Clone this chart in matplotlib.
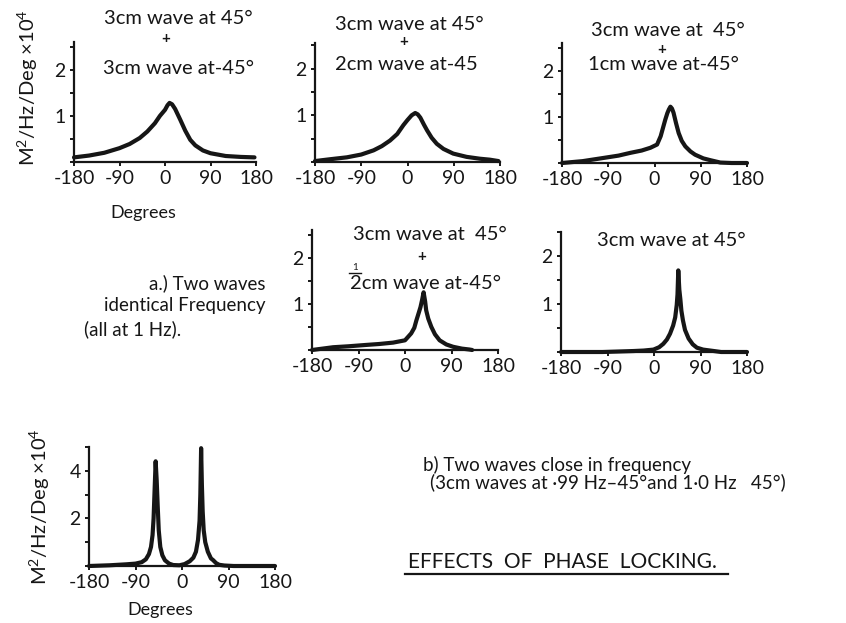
import matplotlib.pyplot as plt
from matplotlib.lines import Line2D
from matplotlib.ticker import MultipleLocator

W, H = 846, 623
INK = '#161616'

# a) two waves of identical frequency, spectra against direction (degrees)
deg_a1 = [-180, -150, -120, -90, -70, -50, -35, -20, -10, 0, 5, 9, 14, 20, 30, 40, 50, 60, 75, 90, 120, 150, 177]
psd_a1 = [0.10, 0.14, 0.20, 0.30, 0.39, 0.52, 0.66, 0.84, 1.00, 1.13, 1.23, 1.28, 1.25, 1.15, 0.92, 0.68, 0.48, 0.36, 0.25, 0.19, 0.13, 0.11, 0.10]

deg_a2 = [-180, -150, -118, -90, -66, -50, -34, -20, -8, 0, 8, 15, 20, 25, 32, 38, 47, 57, 70, 89, 115, 141, 160, 177]
psd_a2 = [0.02, 0.06, 0.10, 0.16, 0.25, 0.34, 0.46, 0.60, 0.79, 0.90, 1.00, 1.05, 1.02, 0.95, 0.80, 0.68, 0.52, 0.39, 0.28, 0.18, 0.11, 0.07, 0.05, 0.02]

deg_a3 = [-180, -140, -99, -70, -47, -25, -8, 5, 12, 17, 21, 25, 28, 31, 34, 37, 42, 47, 53, 60, 70, 79, 95, 109, 128, 150, 180]
psd_a3 = [0.0, 0.04, 0.11, 0.16, 0.22, 0.27, 0.33, 0.40, 0.58, 0.78, 0.94, 1.08, 1.16, 1.22, 1.18, 1.09, 0.86, 0.65, 0.48, 0.36, 0.25, 0.18, 0.10, 0.06, 0.01, 0.0, 0.0]

deg_a4 = [-180, -139, -110, -75, -50, -23, 0, 12, 18, 22, 27, 30, 33, 36, 39, 41, 45, 51, 58, 67, 80, 93, 110, 125, 130]
psd_a4 = [0.0, 0.06, 0.08, 0.11, 0.13, 0.16, 0.21, 0.36, 0.48, 0.64, 0.82, 0.93, 1.08, 1.25, 1.05, 0.86, 0.68, 0.50, 0.34, 0.21, 0.12, 0.07, 0.03, 0.01, 0.0]

deg_a5 = [-180, -100, -40, -20, -1, 10, 18, 25, 31, 37, 41, 44, 45.5, 47, 49, 51, 53, 56, 60, 67, 75, 83, 95, 109, 130, 180]
psd_a5 = [0.0, 0.0, 0.02, 0.03, 0.05, 0.10, 0.17, 0.26, 0.38, 0.55, 0.72, 0.98, 1.20, 1.70, 1.30, 1.10, 0.86, 0.66, 0.46, 0.28, 0.16, 0.09, 0.05, 0.03, 0.0, 0.0]

# b) two waves close in frequency
deg_b = [-180, -140, -108, -90, -78, -70, -64, -60, -57, -55, -53, -51, -49, -47, -45, -42, -38, -33, -25, -17,
         -5, 5, 15, 22, 27, 31, 34, 35.5, 37, 38.5, 40, 42, 45, 50, 56, 60, 66, 72, 82, 100, 180]
psd_b = [0.0, 0.03, 0.07, 0.10, 0.16, 0.28, 0.50, 0.80, 1.30, 2.0, 3.2, 4.4, 3.6, 2.5, 1.5, 0.80, 0.45, 0.24, 0.10, 0.04,
         0.03, 0.08, 0.20, 0.35, 0.60, 1.10, 1.90, 3.0, 4.95, 3.4, 2.3, 1.5, 1.0, 0.6, 0.32, 0.25, 0.12, 0.05, 0.02, 0.0, 0.0]

x_ticks = [-180, -90, 0, 90, 180]
x_labels = ['-180', '-90', '0', '90', '180']

plt.rcParams['font.family'] = ['Lato', 'DejaVu Sans']
plt.rcParams['text.color'] = INK


def px(x, y):
    return x / W, 1 - y / H


def make_axes(fig, left, right, bottom, top):
    return fig.add_axes([left / W, 1 - bottom / H, (right - left) / W, (bottom - top) / H])


def style(ax, ymax, major, minor):
    ax.set_xlim(-180, 180)
    ax.set_ylim(0, ymax)
    for s in ['top', 'right']:
        ax.spines[s].set_visible(False)
    for s in ['left', 'bottom']:
        ax.spines[s].set_linewidth(1.6)
        ax.spines[s].set_color(INK)
    ax.set_xticks(x_ticks)
    ax.set_xticklabels(x_labels)
    ax.yaxis.set_major_locator(MultipleLocator(major))
    ax.yaxis.set_minor_locator(MultipleLocator(minor))
    ticks = [t for t in ax.get_yticks() if 0 < t < ymax]
    ax.set_yticks(ticks)
    ax.set_yticklabels(['%g' % t for t in ticks])
    ax.tick_params(axis='both', which='both', direction='out', length=3, width=1.4,
                   color=INK, labelsize=14, labelcolor=INK)
    ax.tick_params(axis='x', pad=3)
    ax.tick_params(axis='y', pad=3)
    ax.set_facecolor('none')


fig = plt.figure(figsize=(W / 100, H / 100), dpi=100)

panels = [
    (74, 256, 162, 42, 2.6, 1, 0.5, deg_a1, psd_a1),
    (315, 500, 162, 43, 2.55, 1, 0.5, deg_a2, psd_a2),
    (562, 747, 163, 43, 2.6, 1, 0.5, deg_a3, psd_a3),
    (312, 498, 350, 230, 2.6, 1, 0.5, deg_a4, psd_a4),
    (561, 747, 352, 232, 2.5, 1, 0.5, deg_a5, psd_a5),
    (89, 275, 566, 447, 5.0, 2, 1, deg_b, psd_b),
]

for l, r, b, t, ymax, major, minor, xs, ys in panels:
    ax = make_axes(fig, l, r, b, t)
    style(ax, ymax, major, minor)
    ax.plot(xs, ys, color=INK, lw=3.0, solid_joinstyle='round', solid_capstyle='round', clip_on=False)

fs = 14.5
plus = dict(ha='center', va='center', fontsize=11, fontweight='bold')

# panel titles
fig.text(*px(178, 18), '3cm wave at 45°', ha='center', va='center', fontsize=fs)
fig.text(*px(166, 39), '+', **plus)
fig.text(*px(178, 68), '3cm wave at-45°', ha='center', va='center', fontsize=fs)

fig.text(*px(409, 25), '3cm wave at 45°', ha='center', va='center', fontsize=fs)
fig.text(*px(404, 42), '+', **plus)
fig.text(*px(335, 65), '2cm wave at-45', ha='left', va='center', fontsize=fs)

fig.text(*px(668, 30), '3cm wave at  45°', ha='center', va='center', fontsize=fs)
fig.text(*px(662, 50), '+', **plus)
fig.text(*px(663, 65), '1cm wave at-45°', ha='center', va='center', fontsize=fs)

fig.text(*px(430, 235), '3cm wave at  45°', ha='center', va='center', fontsize=fs)
fig.text(*px(422, 257), '+', **plus)
fig.text(*px(350, 284), '2cm wave at-45°', ha='left', va='center', fontsize=fs)
fig.text(*px(355, 267), '1', ha='center', va='center', fontsize=7)
fig.add_artist(Line2D([349 / W, 361 / W], [1 - 273 / H, 1 - 273 / H], color=INK, lw=1))

fig.text(*px(671, 240), '3cm wave at 45°', ha='center', va='center', fontsize=fs)

# axis titles
ylab = 'M$\\mathregular{^2}$/Hz/Deg ×10$\\mathregular{^4}$'
fig.text(*px(28, 88), ylab, rotation=90, ha='center', va='center', fontsize=fs)
fig.text(*px(40, 507), ylab, rotation=90, ha='center', va='center', fontsize=fs)
fig.text(*px(143, 213), 'Degrees', ha='center', va='center', fontsize=13)
fig.text(*px(160, 610), 'Degrees', ha='center', va='center', fontsize=13)

# captions
fig.text(*px(265, 283), 'a.) Two waves', ha='right', va='center', fontsize=13.5)
fig.text(*px(265, 306), 'identical Frequency', ha='right', va='center', fontsize=13.5)
fig.text(*px(84, 329), '(all at 1 Hz).', ha='left', va='center', fontsize=13.5)

fig.text(*px(423, 465), 'b) Two waves close in frequency', ha='left', va='center', fontsize=13.5)
fig.text(*px(430, 482), '(3cm waves at ·99 Hz–45°and 1·0 Hz   45°)', ha='left', va='center', fontsize=13.5)

fig.text(*px(408, 562), 'EFFECTS  OF  PHASE  LOCKING.', ha='left', va='center', fontsize=15)
fig.add_artist(Line2D([405 / W, 728 / W], [1 - 574 / H, 1 - 574 / H], color=INK, lw=1.6))

fig.savefig('out.png', dpi=100, facecolor='white')
